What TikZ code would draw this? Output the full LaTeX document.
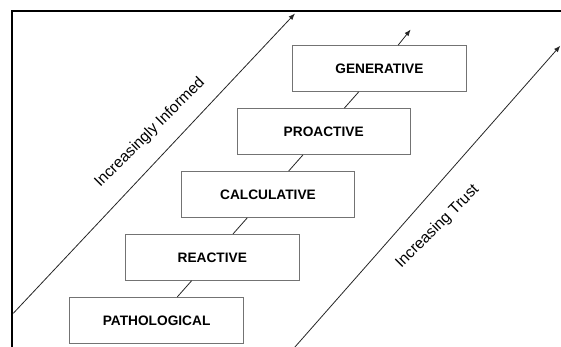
\documentclass[tikz,border=0pt]{standalone}
\usepackage{fontspec}
\setmainfont{Liberation Sans}
\usetikzlibrary{arrows.meta}
\begin{document}
\begin{tikzpicture}[x=1pt,y=-1pt,
  stage/.style={draw=black!55, line width=0.8pt, fill=white,
    minimum width=173.5pt, minimum height=46pt, inner sep=0pt,
    font=\fontsize{13.7}{16}\selectfont\bfseries},
  link/.style={line width=0.8pt, black!85},
  axis/.style={line width=0.8pt, black!85, -{Latex[length=6.5pt,width=5pt]}},
  axislabel/.style={font=\fontsize{15.5}{18}\selectfont, rotate=45, inner sep=0pt},
  frame/.style={line width=2pt, black}]
\useasboundingbox (0,0) rectangle (561,347);
\fill[white] (0,0) rectangle (561,347);
% frame
\draw[frame] (11.8,348) -- (11.8,11.2) -- (562,11.2);
% stages
\node[stage] (path)   at (156.6,320.3) {PATHOLOGICAL};
\node[stage] (react)  at (212.3,257.35) {REACTIVE};
\node[stage] (calc)   at (268.0,194.4) {CALCULATIVE};
\node[stage] (proact) at (323.7,131.45) {PROACTIVE};
\node[stage] (gen)    at (379.4,68.5) {GENERATIVE};
\coordinate (tipC) at (410.7,29.5);
\draw[link] (path) -- (react);
\draw[link] (react) -- (calc);
\draw[link] (calc) -- (proact);
\draw[link] (proact) -- (gen);
\draw[axis] (gen) -- (tipC);
% axes
\coordinate (infS) at (13.3,313.3);
\coordinate (infE) at (295,13.5);
\coordinate (trS) at (294.5,347.5);
\coordinate (trE) at (560.3,45.7);
\draw[axis] (infS) -- (infE);
\draw[axis] (trS) -- (trE);
\node[axislabel] (infL) at (150,132.5) {Increasingly Informed};
\node[axislabel] (trL) at (437.5,226.7) {Increasing Trust};
\end{tikzpicture}
\end{document}
